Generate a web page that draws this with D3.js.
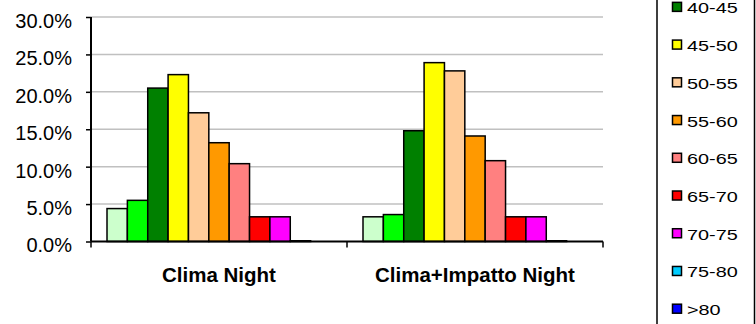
<!DOCTYPE html>
<html>
<head>
<meta charset="utf-8">
<script src="https://cdn.jsdelivr.net/npm/d3@7"></script>
<style>
html,body{margin:0;padding:0;background:#fff;}
svg{display:block;}
</style>
</head>
<body>
<svg id="chart" width="756" height="324"></svg>
<script>
const categories = ["Clima Night", "Clima+Impatto Night"];
const seriesNames = ["<35", "35-40", "40-45", "45-50", "50-55", "55-60", "60-65", "65-70", "70-75", "75-80", ">80"];
const seriesColors = ["#CCFFCC", "#00FF00", "#008000", "#FFFF00", "#FFCC99", "#FF9900", "#FF8080", "#FF0000", "#FF00FF", "#00CCFF", "#0000FF"];
const valuesClima = [0.044, 0.055, 0.205, 0.223, 0.172, 0.132, 0.104, 0.033, 0.033, 0.001, 0.0];
const valuesImpatto = [0.033, 0.036, 0.148, 0.239, 0.228, 0.141, 0.108, 0.033, 0.033, 0.001, 0.0];
const yTicks = [0, 0.05, 0.10, 0.15, 0.20, 0.25, 0.30];

const values = [valuesClima, valuesImpatto];
const svg = d3.select("#chart");

const plotLeft = 91, plotRight = 603, plotTop = 17, plotBottom = 241.5;

const y = d3.scaleLinear().domain([0, 0.30]).range([plotBottom, plotTop]);
const x0 = d3.scaleBand().domain(categories).range([plotLeft, plotRight]).paddingInner(0).paddingOuter(0);
const x1 = d3.scaleBand().domain(seriesNames).range([0, x0.bandwidth()]).paddingInner(0).paddingOuter(0.786);
const color = d3.scaleOrdinal().domain(seriesNames).range(seriesColors);

// gridlines
svg.append("g").selectAll("line").data(yTicks.filter(d => d > 0)).join("line")
  .attr("x1", plotLeft).attr("x2", plotRight)
  .attr("y1", d => y(d)).attr("y2", d => y(d))
  .attr("stroke", "#c0c0c0").attr("stroke-width", 1.5);

// bars
const groups = svg.append("g").selectAll("g").data(categories).join("g")
  .attr("transform", d => `translate(${x0(d)},0)`);
groups.selectAll("rect").data((c, i) => seriesNames.map((s, j) => ({s, v: values[i][j]})))
  .join("rect")
  .filter(d => d.v > 0)
  .attr("x", d => x1(d.s))
  .attr("width", x1.bandwidth())
  .attr("y", d => y(d.v))
  .attr("height", d => y(0) - y(d.v))
  .attr("fill", d => color(d.s))
  .attr("stroke", "#000").attr("stroke-width", 1.5);

// y axis
const yAxis = d3.axisLeft(y).tickValues(yTicks).tickFormat(d3.format(".1%")).tickSize(5).tickPadding(14);
const gy = svg.append("g").attr("transform", `translate(${plotLeft},0)`).call(yAxis);
gy.select(".domain").attr("stroke", "#000").attr("stroke-width", 2).attr("d", `M0,${plotTop}V${plotBottom}`);
gy.selectAll(".tick line").attr("stroke", "#000").attr("stroke-width", 1.5);
gy.selectAll(".tick text").attr("font-family", "Arial, 'Liberation Sans', sans-serif").attr("font-size", 20).attr("fill", "#000").attr("dy", "0.52em");

// x axis
const xAxis = d3.axisBottom(x0).tickSize(0).tickFormat("");
const gx = svg.append("g").attr("transform", `translate(0,${plotBottom})`).call(xAxis);
gx.select(".domain").attr("stroke", "#000").attr("stroke-width", 2).attr("d", `M${plotLeft},0H${plotRight}`);
const bounds = [plotLeft, x0(categories[1]), plotRight];
gx.selectAll("line.sep").data(bounds).join("line").attr("class", "sep")
  .attr("x1", d => d).attr("x2", d => d).attr("y1", 0).attr("y2", 6)
  .attr("stroke", "#000").attr("stroke-width", 1.5);
svg.append("g").selectAll("text").data(categories).join("text")
  .attr("x", d => x0(d) + x0.bandwidth() / 2)
  .attr("y", 281.5)
  .attr("text-anchor", "middle")
  .attr("font-family", "Arial, 'Liberation Sans', sans-serif")
  .attr("font-weight", "bold").attr("font-size", 20.5)
  .attr("fill", "#000")
  .text(d => d);

// legend (box extends beyond the visible area, as in the reference; entries above the top edge are clipped)
const legY = d3.scalePoint().domain(seriesNames).range([-68.6, 308.7]);
svg.append("rect").attr("x", 657).attr("y", -120).attr("width", 97.5).attr("height", 500)
  .attr("fill", "#fff").attr("stroke", "#000").attr("stroke-width", 1.5);
const li = svg.append("g").selectAll("g").data(seriesNames.filter(d => legY(d) > 0)).join("g")
  .attr("transform", d => `translate(0,${legY(d)})`);
li.append("rect").attr("x", 672.5).attr("y", -4.5).attr("width", 9).attr("height", 9)
  .attr("fill", d => color(d)).attr("stroke", "#000").attr("stroke-width", 1.5);
li.append("text")
  .attr("transform", "translate(687,6.5) scale(1.28,1)")
  .attr("font-family", "Arial, 'Liberation Sans', sans-serif").attr("font-size", 15.5)
  .attr("fill", "#000")
  .text(d => d);
</script>
</body>
</html>
